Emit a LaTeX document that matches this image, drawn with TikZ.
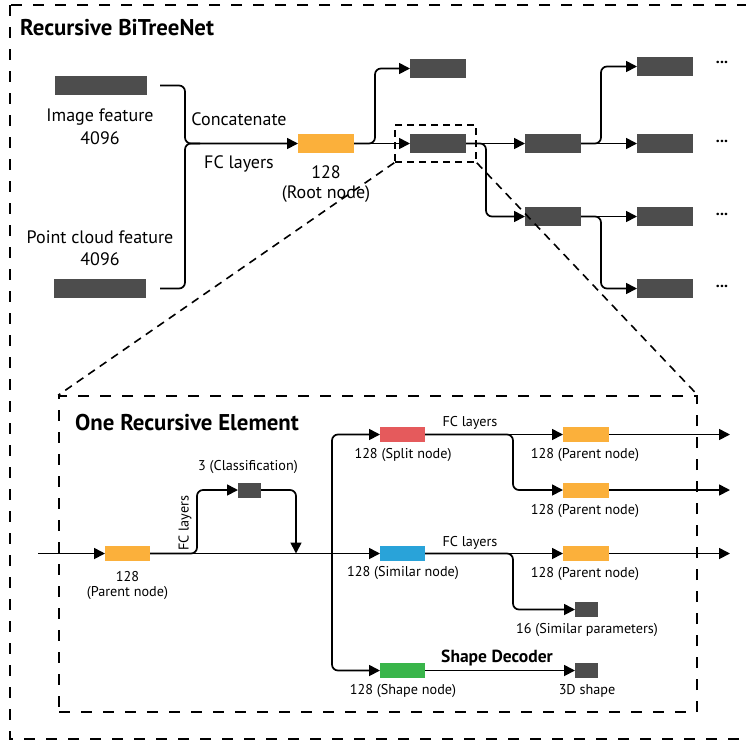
\documentclass[tikz,border=0pt]{standalone}
\usepackage{fontspec}
\setmainfont{PT Sans}
\usetikzlibrary{arrows.meta}
\definecolor{barorange}{HTML}{FBB03B}
\definecolor{bargray}{HTML}{4D4D4D}
\definecolor{barred}{HTML}{E55A5C}
\definecolor{barblue}{HTML}{29A3D9}
\definecolor{bargreen}{HTML}{39B54A}
\tikzset{
  bar/.style={draw=none, inner sep=0pt, outer sep=0pt, minimum height=19pt},
  bigbar/.style={bar, fill=bargray, minimum width=92pt},
  midbar/.style={bar, fill=bargray, minimum width=56pt},
  smallbar/.style={bar, minimum width=45pt, minimum height=15pt},
  tinybar/.style={bar, fill=bargray, minimum width=23pt, minimum height=15pt},
  line/.style={line width=1.7pt, draw=black},
  arr/.style={line, -{Triangle[length=11pt,width=11pt]}},
  lab/.style={inner sep=0pt, font=\fontsize{18}{21}\selectfont},
  slab/.style={inner sep=0pt, font=\fontsize{14.2}{16}\selectfont},
  ttl/.style={inner sep=0pt, anchor=west, font=\fontsize{22.8}{26}\selectfont\bfseries},
  bigdash/.style={draw, line width=1.6pt, dash pattern=on 11pt off 11pt},
  zdash/.style={draw, line width=1.6pt, dash pattern=on 8pt off 6pt},
}
\begin{document}
\begin{tikzpicture}[x=1pt,y=-1pt]
\useasboundingbox (0,0) rectangle (746,740);
% outer frame
\draw[bigdash] (10,5) rectangle (756,739);
\node[ttl] (title) at (20,28) {Recursive BiTreeNet};

% ---------- top tree ----------
\node[bigbar] (imgf) at (101,85.5) {};
\node[bigbar] (pcf) at (100,288.5) {};
\node[lab] (imgl1) at (100,117) {Image feature};
\node[lab] (imgl2) at (100,138) {4096};
\node[lab] (pcl1) at (100,237) {Point cloud feature};
\node[lab] (pcl2) at (100,259) {4096};
\coordinate (imgout) at (160,85.5);
\coordinate (pcout) at (160,288.5);
\coordinate (join) at (185,143.5);
\node[midbar, fill=barorange] (root) at (326,143.5) {};
\node[lab] (concat) at (239,119) {Concatenate};
\node[lab] (fc1) at (239,164) {FC layers};
\node[lab] (rootl1) at (326,172) {128};
\node[lab] (rootl2) at (326,194) {(Root node)};
\draw[arr, rounded corners=6] (imgout) -| (join) -- (root.west);
\draw[line, rounded corners=6] (pcout) -| (join) -- ++(15,0);

\node[midbar] (t1) at (438,68.5) {};
\node[midbar] (m) at (438,143.5) {};
\node[midbar] (n1) at (553,143.5) {};
\node[midbar] (n2) at (553,216.5) {};
\node[midbar] (l1) at (665,66.5) {};
\node[midbar] (l2) at (665,143.5) {};
\node[midbar] (l3) at (665,216.5) {};
\node[midbar] (l4) at (665,288.5) {};
\draw[arr] (root.east) -- (m.west);
\draw[arr, rounded corners=6] (root.east) -- ++(21,0) |- (t1.west);
\draw[arr] (m.east) -- (n1.west);
\draw[arr, rounded corners=6] (m.east) -- ++(20,0) |- (n2.west);
\draw[arr] (n1.east) -- (l2.west);
\draw[arr, rounded corners=6] (n1.east) -- ++(20,0) |- (l1.west);
\draw[arr] (n2.east) -- (l3.west);
\draw[arr, rounded corners=6] (n2.east) -- ++(20,0) |- (l4.west);
\foreach \yy/\nm in {62/d1,141/d2,214/d3,286/d4}
  \node[inner sep=0pt, font=\fontsize{16}{16}\selectfont\bfseries] (\nm) at (722,\yy) {...};

% zoom box
\node[draw, line width=1.6pt, dash pattern=on 7pt off 5pt, minimum width=81pt, minimum height=37pt, inner sep=0pt] (zb) at (435.5,143.5) {};

% ---------- inner element ----------
\node[bigdash, minimum width=638pt, minimum height=316pt, inner sep=0pt] (inner) at (378,554) {};
\draw[zdash] (zb.south west) -- (inner.north west);
\draw[zdash] (zb.south east) -- (inner.north east);
\node[ttl] (ititle) at (75,423) {One Recursive Element};

\coordinate (start) at (38,553.5);
\node[smallbar, fill=barorange] (p) at (127.5,553.5) {};
\node[slab] (pl1) at (127.5,577) {128};
\node[slab] (pl2) at (127.5,593) {(Parent node)};
\draw[arr] (start) -- (p.west);

\node[tinybar] (c) at (249.5,490) {};
\node[slab] (cl) at (248,467) {3 (Classification)};
\node[slab, rotate=90] (fcv) at (185,523) {FC layers};
\coordinate (fcturn) at (197,553.5);
\coordinate (merge) at (296,553.5);
\coordinate (branch) at (332,553.5);

\node[smallbar, fill=barred] (split) at (402.5,434.5) {};
\node[smallbar, fill=barblue] (sim) at (402.5,553.5) {};
\node[smallbar, fill=bargreen] (shape) at (402.5,670.5) {};
\node[slab] (splitl) at (403,455) {128 (Split node)};
\node[slab] (siml) at (403,573) {128 (Similar node)};
\node[slab] (shapel) at (403,691) {128 (Shape node)};

\draw[arr, rounded corners=6] (p.east) -- (fcturn) |- (c.west);
\draw[arr, rounded corners=6] (c.east) -| (merge);
\draw[arr] (p.east) -- (sim.west);
\draw[arr, rounded corners=6] (branch) |- (split.west);
\draw[arr, rounded corners=6] (branch) |- (shape.west);

\node[smallbar, fill=barorange, minimum width=46pt] (pa) at (586,434.5) {};
\node[smallbar, fill=barorange, minimum width=46pt] (pb) at (586,490) {};
\node[smallbar, fill=barorange, minimum width=46pt] (pc) at (586,553.5) {};
\node[tinybar] (sp) at (586.5,609.5) {};
\node[tinybar] (sd) at (586.5,670.5) {};
\node[slab] (pal) at (585,455) {128 (Parent node)};
\node[slab] (pbl) at (585,511) {128 (Parent node)};
\node[slab] (pcl) at (585,574) {128 (Parent node)};
\node[slab] (spl) at (587,630) {16 (Similar parameters)};
\node[slab] (sdl) at (587,691) {3D shape};
\node[slab] (fc2) at (470,423) {FC layers};
\node[slab] (fc3) at (470,543) {FC layers};
\node[inner sep=0pt, font=\fontsize{17.5}{20}\selectfont\bfseries] (sdec) at (497,658) {Shape Decoder};

\coordinate (outa) at (730,434.5);
\coordinate (outb) at (730,490);
\coordinate (outc) at (730,553.5);
\draw[arr] (split.east) -- (pa.west);
\draw[arr, rounded corners=6] (split.east) -- ++(88,0) |- (pb.west);
\draw[arr] (sim.east) -- (pc.west);
\draw[arr, rounded corners=6] (sim.east) -- ++(88,0) |- (sp.west);
\draw[arr] (shape.east) -- (sd.west);
\draw[arr] (pa.east) -- (outa);
\draw[arr] (pb.east) -- (outb);
\draw[arr] (pc.east) -- (outc);
\end{tikzpicture}
\end{document}
